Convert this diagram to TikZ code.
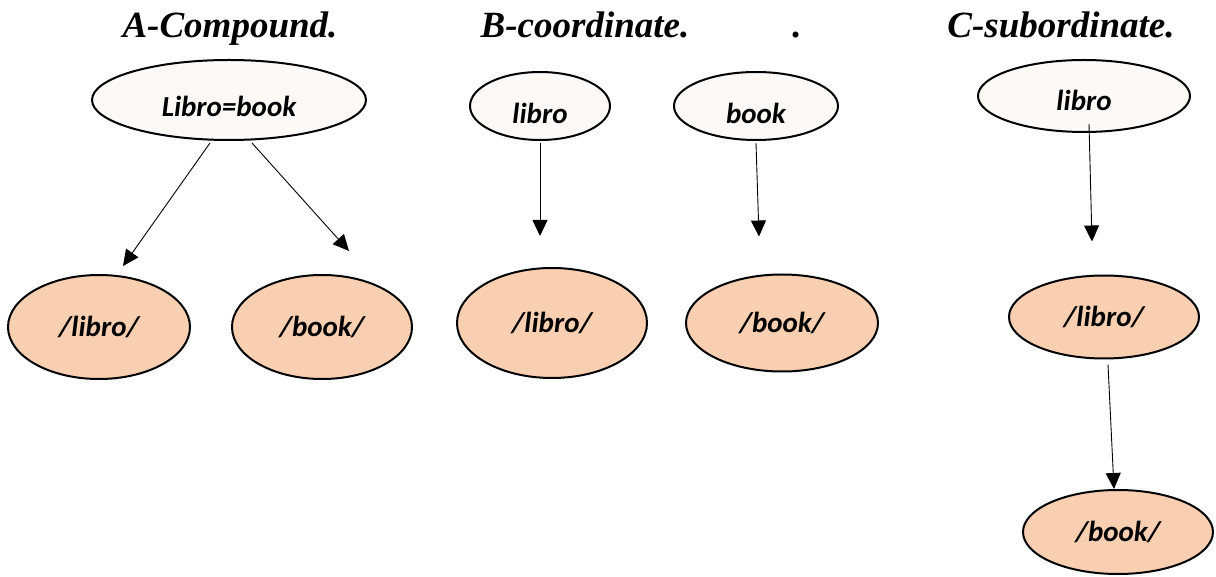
\documentclass[tikz,border=0pt]{standalone}
\usepackage{fontspec}
\setmainfont{Liberation Serif}
\newfontfamily\lblfont{Carlito}
\usepackage{tikz}
\usetikzlibrary{shapes.geometric,positioning,arrows.meta}
\definecolor{wordfill}{RGB}{253, 249, 246}
\definecolor{soundfill}{RGB}{248, 207, 177}

\begin{document}
\begin{tikzpicture}[x=1pt, y=1pt,
    word/.style={ellipse, draw, line width=2pt, fill=wordfill, inner sep=0pt,
        font=\lblfont\fontsize{29}{29}\selectfont\bfseries\itshape},
    sound/.style={word, fill=soundfill},
    link/.style={line width=0.9pt, -{Triangle[length=16pt,width=15pt]}},
    heading/.style={anchor=base, font=\fontsize{37}{37}\selectfont\bfseries\itshape}]
    \useasboundingbox (0,0) rectangle (1216,576);
    % A - compound
    \node[heading] at (230, 538) {A-Compound.};
    \node[word, minimum width=274pt, minimum height=80pt, text height=34pt] (cmpd) at (229, 476) {Libro=book};
    \node[sound, minimum width=182pt, minimum height=104pt] (cmpdL) at (99, 249) {/libro/};
    \node[sound, minimum width=180pt, minimum height=104pt] (cmpdB) at (322, 249) {/book/};
    \draw[link] ([shift={(-19,-2)}]cmpd.south) -- ([shift={(24,8)}]cmpdL.north);
    \draw[link] ([shift={(23,-2)}]cmpd.south) -- ([shift={(27,23)}]cmpdB.north);
    % B - coordinate
    \node[heading] at (585, 538) {B-coordinate.};
    \node[heading] at (797, 538) {.};
    \node[word, minimum width=140pt, minimum height=68pt, text height=35pt] (crdl) at (540, 470) {libro};
    \node[word, minimum width=164pt, minimum height=68pt, text height=35pt] (crdb) at (756, 470) {book};
    \node[sound, minimum width=190pt, minimum height=110pt] (crdL) at (552, 253) {/libro/};
    \node[sound, minimum width=192pt, minimum height=97pt] (crdB) at (782, 253) {/book/};
    \draw[link] ([yshift=-2]crdl.south) -- ([shift={(-12,31)}]crdL.north);
    \draw[link] ([yshift=-2]crdb.south) -- ([shift={(-23,37)}]crdB.north);
    % C - subordinate
    \node[heading] at (1061, 538) {C-subordinate.};
    \node[word, minimum width=212pt, minimum height=72pt, text height=30pt] (subl) at (1084, 480) {libro};
    \node[sound, minimum width=190pt, minimum height=83pt] (subL) at (1104, 259) {/libro/};
    \node[sound, minimum width=190pt, minimum height=84pt] (subB) at (1118, 44) {/book/};
    \draw[link] ([shift={(5,9)}]subl.south) -- ([shift={(-12,33)}]subL.north);
    \draw[link] ([shift={(4,-5)}]subL.south) -- ([xshift=-4]subB.north);
\end{tikzpicture}
\end{document}
